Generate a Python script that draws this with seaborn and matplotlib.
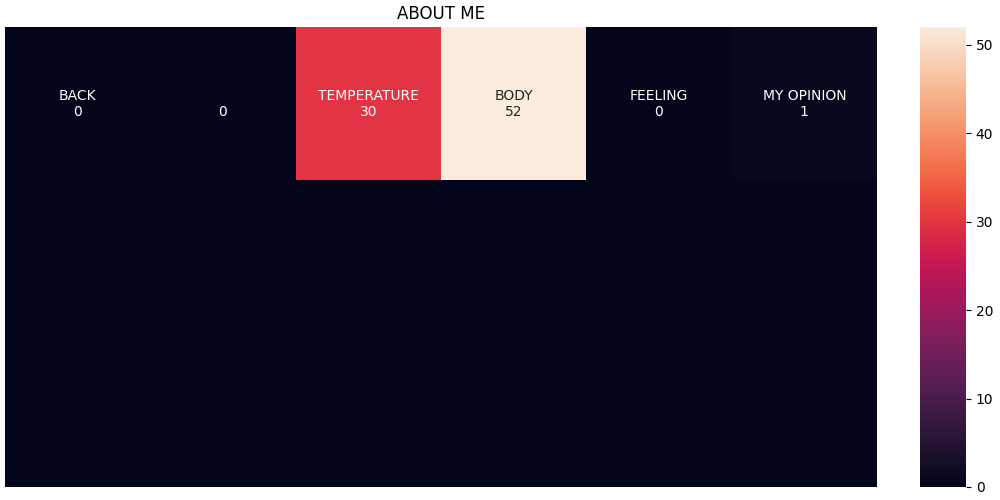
import numpy as np
import matplotlib
matplotlib.use('Agg')
import matplotlib.pyplot as plt
import seaborn as sns

labels = ['BACK', '', 'TEMPERATURE', 'BODY', 'FEELING', 'MY OPINION']
counts = [0, 0, 30, 52, 0, 1]
n_rows = 3

values = np.zeros((n_rows, len(counts)))
values[0] = counts

annot = np.full((n_rows, len(counts)), '', dtype=object)
for i, (lab, c) in enumerate(zip(labels, counts)):
    annot[0, i] = f'{lab}\n{c}'

fig = plt.figure(figsize=(10, 5))
ax = fig.add_axes([0.005, 0.026, 0.872, 0.920])
cax = fig.add_axes([0.920, 0.026, 0.046, 0.920])
sns.heatmap(values, annot=annot, fmt='', xticklabels=False, yticklabels=False,
            ax=ax, cbar_ax=cax)
ax.set_title('ABOUT ME')
fig.savefig('out.png', dpi=100)
plt.close()
